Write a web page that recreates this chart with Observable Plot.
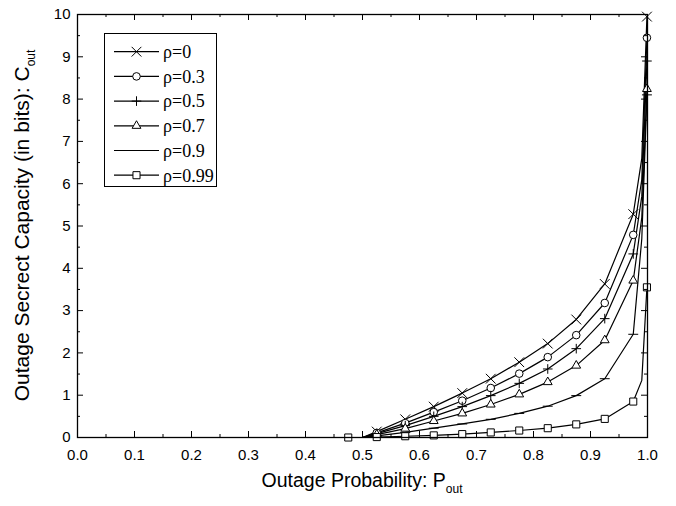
<!DOCTYPE html>
<html><head><meta charset="utf-8">
<script src="https://cdn.jsdelivr.net/npm/d3@7"></script>
<script src="https://cdn.jsdelivr.net/npm/@observablehq/plot@0.6"></script>
<style>
body{margin:0;background:#fff;}
#chart{width:676px;height:506px;}
</style></head><body><div id="chart"></div>
<script>
// ---- data ----
const pOut = [0.475, 0.5, 0.525, 0.575, 0.625, 0.675, 0.725, 0.775, 0.825, 0.875, 0.925, 0.975, 0.99, 0.999];
const noMarkerAt = [0.5, 0.99];
const rhoLabels = ["ρ=0", "ρ=0.3", "ρ=0.5", "ρ=0.7", "ρ=0.9", "ρ=0.99"];
const c_rho0    = [null, 0, 0.14, 0.43, 0.73, 1.05, 1.39, 1.78, 2.22, 2.79, 3.63, 5.28, 6.60, 9.95];
const c_rho03   = [null, 0, 0.11, 0.34, 0.60, 0.87, 1.17, 1.51, 1.90, 2.42, 3.18, 4.79, 6.10, 9.45];
const c_rho05   = [null, 0, 0.09, 0.28, 0.50, 0.73, 0.99, 1.28, 1.62, 2.10, 2.81, 4.34, 5.70, 8.90];
const c_rho07   = [null, 0, 0.07, 0.21, 0.39, 0.57, 0.78, 1.02, 1.31, 1.70, 2.30, 3.71, 5.20, 8.24];
const c_rho09   = [null, 0, 0.04, 0.12, 0.22, 0.32, 0.43, 0.57, 0.74, 0.99, 1.39, 2.44, 4.70, 8.10];
const c_rho099  = [0, 0, 0.01, 0.03, 0.05, 0.08, 0.12, 0.165, 0.22, 0.31, 0.44, 0.85, 1.35, 3.55];
const xTicks = [0.0, 0.1, 0.2, 0.3, 0.4, 0.5, 0.6, 0.7, 0.8, 0.9, 1.0];
const yTicks = [0, 1, 2, 3, 4, 5, 6, 7, 8, 9, 10];
const xTitle = "Outage Probability: P";
const yTitle = "Outage Secrect Capacity (in bits): C";
const titleSub = "out";

// ---- build table ----
const seriesValues = [c_rho0, c_rho03, c_rho05, c_rho07, c_rho09, c_rho099];
const table = [];
seriesValues.forEach((vals, i) => vals.forEach((v, j) => {
  if (v != null) table.push({p: pOut[j], c: v, s: rhoLabels[i], marker: !noMarkerAt.includes(pOut[j])});
}));

// ---- styles ----
const W = 676, H = 506, mL = 77, mR = 29, mT = 14, mB = 69;
const innerW = W - mL - mR, innerH = H - mT - mB;
const dash = {draw(ctx, size) { const w = Math.sqrt(size) * 0.7; ctx.moveTo(-w, 0); ctx.lineTo(w, 0); }};
const syms = [
  {symbol: "times", r: 4.5, fill: "none"},
  {symbol: "circle", r: 3.8, fill: "white"},
  {symbol: "plus", r: 3.2, fill: "none"},
  {symbol: "triangle2", r: 4.2, fill: "white"},
  {symbol: dash, r: 4, fill: "none"},
  {symbol: "square", r: 4, fill: "white"}
];
const mid = a => a.slice(0, -1).map((d, i) => (d + a[i + 1]) / 2);
const xMinor = mid(xTicks), yMinor = mid(yTicks);

const plot = Plot.plot({
  width: W, height: H,
  marginLeft: mL, marginRight: mR, marginTop: mT, marginBottom: mB,
  style: {fontFamily: "'Liberation Sans', Arial, sans-serif", fontSize: "15px", color: "black", background: "white"},
  x: {domain: [0, 1]},
  y: {domain: [0, 10]},
  marks: [
    ...rhoLabels.map(lab => Plot.line(table.filter(d => d.s === lab), {x: "p", y: "c", stroke: "black", strokeWidth: 1.2})),
    ...rhoLabels.map((lab, i) => Plot.dot(table.filter(d => d.s === lab && d.marker),
      {x: "p", y: "c", symbol: syms[i].symbol, r: syms[i].r, fill: syms[i].fill, stroke: "black", strokeWidth: 1})),
    // inward ticks on all four sides
    Plot.tickX(xTicks, {x: d => d, insetTop: innerH - 6, stroke: "black"}),
    Plot.tickX(xMinor, {x: d => d, insetTop: innerH - 3, stroke: "black"}),
    Plot.tickX(xTicks, {x: d => d, insetBottom: innerH - 6, stroke: "black"}),
    Plot.tickX(xMinor, {x: d => d, insetBottom: innerH - 3, stroke: "black"}),
    Plot.tickY(yTicks, {y: d => d, insetRight: innerW - 6, stroke: "black"}),
    Plot.tickY(yMinor, {y: d => d, insetRight: innerW - 3, stroke: "black"}),
    Plot.tickY(yTicks, {y: d => d, insetLeft: innerW - 6, stroke: "black"}),
    Plot.tickY(yMinor, {y: d => d, insetLeft: innerW - 3, stroke: "black"}),
    Plot.axisX({ticks: xTicks, tickSize: 0, tickPadding: 12, tickFormat: d3.format(".1f"), fontSize: 15, label: null}),
    Plot.axisY({ticks: yTicks, tickSize: 0, tickPadding: 7, tickFormat: d3.format("d"), fontSize: 15, label: null}),
    Plot.frame({stroke: "black", strokeWidth: 1.3})
  ]
});
document.getElementById("chart").appendChild(plot);

// ---- titles & legend ----
const svg = d3.select(plot);
const xt = svg.append("text").attr("x", mL + innerW / 2).attr("y", 487).attr("text-anchor", "middle")
  .style("font-family", "'Liberation Sans', Arial, sans-serif").style("font-size", "19.5px").attr("fill", "black");
xt.append("tspan").text(xTitle);
xt.append("tspan").attr("dy", 6).style("font-size", "12px").text(titleSub);

const yt = svg.append("text").attr("transform", `translate(29,${mT + innerH / 2}) rotate(-90)`).attr("text-anchor", "middle")
  .style("font-family", "'Liberation Sans', Arial, sans-serif").style("font-size", "21px").attr("fill", "black");
yt.append("tspan").text(yTitle);
yt.append("tspan").attr("dy", 6).style("font-size", "12px").text(titleSub);

const lg = svg.append("g").attr("text-anchor", "start");
lg.append("rect").attr("x", 104.5).attr("y", 33.5).attr("width", 112).attr("height", 153)
  .attr("fill", "white").attr("stroke", "black").attr("stroke-width", 1);
rhoLabels.forEach((lab, i) => {
  const y = 51.7 + i * 24.7;
  lg.append("line").attr("x1", 114).attr("x2", 159).attr("y1", y).attr("y2", y).attr("stroke", "black").attr("stroke-width", 1.2);
  const s = syms[i];
  const symType = typeof s.symbol === "string"
    ? {times: d3.symbolTimes, circle: d3.symbolCircle, plus: d3.symbolPlus, triangle2: d3.symbolTriangle2, square: d3.symbolSquare}[s.symbol]
    : s.symbol;
  lg.append("path").attr("transform", `translate(136.5,${y})`)
    .attr("d", d3.symbol(symType, Math.PI * s.r * s.r)())
    .attr("fill", s.fill).attr("stroke", "black").attr("stroke-width", 1);
  lg.append("text").attr("x", 163).attr("y", y).attr("dy", "0.35em").attr("text-anchor", "start")
    .style("font-family", "'Liberation Serif', 'Times New Roman', serif").style("font-size", "18px").attr("fill", "black").text(lab);
});
</script></body></html>
